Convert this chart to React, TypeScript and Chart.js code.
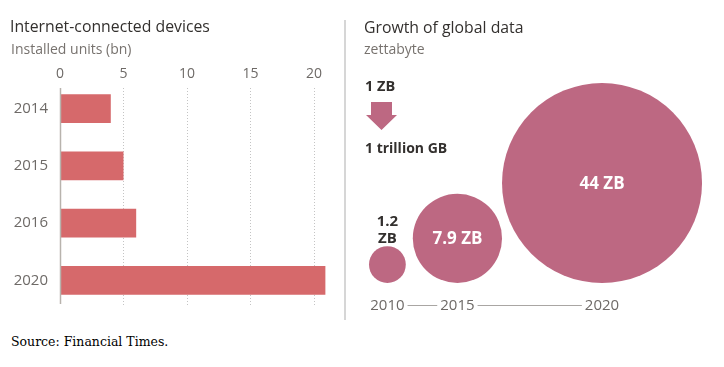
import React, { useEffect, useRef } from "react";
import { Chart, registerables } from "chart.js";

Chart.register(...registerables);

// ---- Data: Internet-connected devices (installed units, bn) ----
const deviceYears = ["2014", "2015", "2016", "2020"];
const deviceUnits = [4.0, 5.0, 6.0, 20.9];
const deviceTicks = [0, 5, 10, 15, 20];

// ---- Data: Growth of global data (zettabyte) ----
const dataYears = ["2010", "2015", "2020"];
const dataZettabytes = [1.2, 7.9, 44];

const SANS = '"Open Sans", "Noto Sans", sans-serif';
const BAR_COLOR = "#d6696b";
const BUBBLE_COLOR = "#bd6882";
const TICK_COLOR = "#6e6a67";
const DARK = "#33302e";

// bubble sizing (radius derived from value)
const BUBBLE_MAX_R = 100;
const BUBBLE_EXP = 0.47;
const BUBBLE_BASE = 7;
const BUBBLE_START = 19;
const BUBBLE_GAPS = [7, 0];

function Label(props: {
  x: number;
  baseline: number;
  size: number;
  weight?: number;
  color: string;
  family?: string;
  asc?: number;
  desc?: number;
  children: React.ReactNode;
}) {
  const { x, baseline, size, weight = 400, color, family = SANS, asc = 1.069, desc = 0.293 } = props;
  const L = Math.round(size * 1.4);
  const top = baseline - (L - (asc + desc) * size) / 2 - asc * size;
  return (
    <div
      style={{
        position: "absolute",
        left: x,
        top,
        fontFamily: family,
        fontSize: size,
        fontWeight: weight,
        color,
        lineHeight: L + "px",
        whiteSpace: "nowrap",
      }}
    >
      {props.children}
    </div>
  );
}

export default function App() {
  const leftRef = useRef<HTMLCanvasElement>(null);
  const rightRef = useRef<HTMLCanvasElement>(null);

  useEffect(() => {
    // ---------- Left: horizontal bar chart ----------
    const gridPlugin = {
      id: "ftGrid",
      beforeDatasetsDraw(chart: any) {
        const { ctx, chartArea, scales } = chart;
        const xs = scales.x;
        ctx.save();
        xs.ticks.forEach((t: any) => {
          if (t.value === 0) return;
          const px = Math.round(xs.getPixelForValue(t.value)) + 0.5;
          ctx.beginPath();
          ctx.setLineDash([1, 2]);
          ctx.strokeStyle = "#c4c4c4";
          ctx.lineWidth = 1;
          ctx.moveTo(px, chartArea.top + 8);
          ctx.lineTo(px, chartArea.bottom - 4);
          ctx.stroke();
        });
        ctx.restore();
      },
      afterDatasetsDraw(chart: any) {
        const { ctx, chartArea, scales } = chart;
        const px = Math.round(scales.x.getPixelForValue(0)) + 0.5;
        ctx.save();
        ctx.beginPath();
        ctx.setLineDash([]);
        ctx.strokeStyle = "#b8b3ad";
        ctx.lineWidth = 1.5;
        ctx.moveTo(px, chartArea.top + 8);
        ctx.lineTo(px, chartArea.bottom - 5);
        ctx.stroke();
        ctx.restore();
      },
    };

    const c1 = new Chart(leftRef.current as HTMLCanvasElement, {
      type: "bar",
      data: {
        labels: deviceYears,
        datasets: [
          {
            data: deviceUnits,
            backgroundColor: BAR_COLOR,
            borderWidth: 0,
            barPercentage: 0.5,
            categoryPercentage: 1,
          },
        ],
      },
      options: {
        indexAxis: "y",
        animation: false,
        responsive: false,
        layout: { padding: { left: 10, right: 7, top: 0, bottom: 13 } },
        plugins: { legend: { display: false }, tooltip: { enabled: false } },
        scales: {
          x: {
            type: "linear",
            position: "top",
            min: 0,
            max: 21.5,
            afterBuildTicks: (s: any) => {
              s.ticks = deviceTicks.map((v) => ({ value: v }));
            },
            afterFit: (s: any) => {
              s.height = 80;
            },
            ticks: {
              padding: -2,
              color: TICK_COLOR,
              font: { family: SANS, size: 14 },
              maxRotation: 0,
              autoSkip: false,
            },
            grid: { display: false, drawTicks: false },
            border: { display: false },
          },
          y: {
            afterFit: (s: any) => {
              s.width = 50;
            },
            ticks: {
              padding: 12,
              color: TICK_COLOR,
              font: { family: SANS, size: 15 },
            },
            grid: { display: false, drawTicks: false },
            border: { display: false },
          },
        },
      } as any,
      plugins: [gridPlugin],
    });

    // ---------- Right: bubble chart ----------
    const maxV = Math.max(...dataZettabytes);
    const radii = dataZettabytes.map((v) => BUBBLE_MAX_R * Math.pow(v / maxV, BUBBLE_EXP));
    const centers: number[] = [];
    let edge = BUBBLE_START;
    radii.forEach((r, i) => {
      if (i > 0) edge += BUBBLE_GAPS[i - 1];
      centers.push(edge + r);
      edge += 2 * r;
    });
    const points = dataZettabytes.map((v, i) => ({ x: centers[i], y: BUBBLE_BASE + radii[i], r: radii[i] }));

    const bubbleLabels = {
      id: "bubbleLabels",
      afterDatasetsDraw(chart: any) {
        const { ctx } = chart;
        const meta = chart.getDatasetMeta(0);
        ctx.save();
        ctx.textAlign = "center";
        ctx.textBaseline = "middle";
        meta.data.forEach((el: any, i: number) => {
          const r = el.options.radius;
          const v = dataZettabytes[i];
          if (r > 30) {
            ctx.fillStyle = "#ffffff";
            ctx.font = `700 17px ${SANS}`;
            ctx.fillText(`${v} ZB`, el.x, el.y + 1);
          } else {
            ctx.fillStyle = DARK;
            ctx.font = `700 15px ${SANS}`;
            ctx.fillText(`${v}`, el.x, el.y - r - 24);
            ctx.fillText("ZB", el.x, el.y - r - 7);
          }
        });
        ctx.restore();
      },
      afterDraw(chart: any) {
        const { ctx } = chart;
        const xs = chart.scales.x;
        ctx.save();
        ctx.font = `15px ${SANS}`;
        const y = Math.round(xs.top + 7 + 8.4) + 0.5;
        ctx.strokeStyle = "#a9a6a3";
        ctx.lineWidth = 1;
        for (let i = 0; i < xs.ticks.length - 1; i++) {
          const p1 = xs.getPixelForValue(xs.ticks[i].value);
          const p2 = xs.getPixelForValue(xs.ticks[i + 1].value);
          const w1 = ctx.measureText(dataYears[i]).width;
          const w2 = ctx.measureText(dataYears[i + 1]).width;
          ctx.beginPath();
          ctx.moveTo(p1 + w1 / 2 + 3, y);
          ctx.lineTo(p2 - w2 / 2 - 3, y);
          ctx.stroke();
        }
        ctx.restore();
      },
    };

    const c2 = new Chart(rightRef.current as HTMLCanvasElement, {
      type: "bubble",
      data: {
        datasets: [
          {
            data: points,
            backgroundColor: BUBBLE_COLOR,
            borderWidth: 0,
            hoverRadius: 0,
            clip: false,
          },
        ],
      },
      options: {
        animation: false,
        responsive: false,
        layout: { padding: 0, autoPadding: false },
        plugins: { legend: { display: false }, tooltip: { enabled: false } },
        scales: {
          x: {
            type: "linear",
            position: "bottom",
            min: 0,
            max: 374,
            afterBuildTicks: (s: any) => {
              s.ticks = centers.map((c) => ({ value: c }));
            },
            afterFit: (s: any) => {
              s.height = 40;
            },
            ticks: {
              padding: 7,
              color: TICK_COLOR,
              font: { family: SANS, size: 15 },
              maxRotation: 0,
              autoSkip: false,
              callback: (_v: any, i: number) => dataYears[i],
            },
            grid: { display: false, drawTicks: false },
            border: { display: false },
          },
          y: { type: "linear", display: false, min: 0, max: 290 },
        },
      } as any,
      plugins: [bubbleLabels],
    });

    return () => {
      c1.destroy();
      c2.destroy();
    };
  }, []);

  return (
    <div
      style={{
        position: "absolute",
        left: 0,
        top: 0,
        width: 724,
        height: 367,
        background: "#ffffff",
        overflow: "hidden",
      }}
    >
      <canvas
        ref={leftRef}
        width={340}
        height={330}
        style={{ position: "absolute", left: 0, top: 0, width: 340, height: 330 }}
      />
      <canvas
        ref={rightRef}
        width={374}
        height={330}
        style={{ position: "absolute", left: 350, top: 0, width: 374, height: 330 }}
      />
      <div style={{ position: "absolute", left: 344, top: 20, width: 2, height: 300, background: "#d6d6d6" }} />

      <Label x={10} baseline={32} size={15.8} color={DARK}>
        Internet-connected devices
      </Label>
      <Label x={11} baseline={54} size={14} color="#77726e">
        Installed units (bn)
      </Label>

      <Label x={364} baseline={33} size={15.8} color={DARK}>
        Growth of global data
      </Label>
      <Label x={364} baseline={54} size={14} color="#77726e">
        zettabyte
      </Label>

      <Label x={365} baseline={92} size={14.5} weight={700} color={DARK}>
        1 ZB
      </Label>
      <svg
        width={32}
        height={29}
        style={{ position: "absolute", left: 366, top: 102 }}
      >
        <polygon points="5,0 26,0 26,13 31,13 15.5,28 0,13 5,13" fill={BUBBLE_COLOR} />
      </svg>
      <Label x={365} baseline={153} size={14} weight={700} color={DARK}>
        1 trillion GB
      </Label>

      <Label
        x={11}
        baseline={346}
        size={12.5}
        color="#000000"
        family='"DejaVu Serif", serif'
        asc={0.928}
        desc={0.236}
      >
        Source: Financial Times.
      </Label>
    </div>
  );
}
